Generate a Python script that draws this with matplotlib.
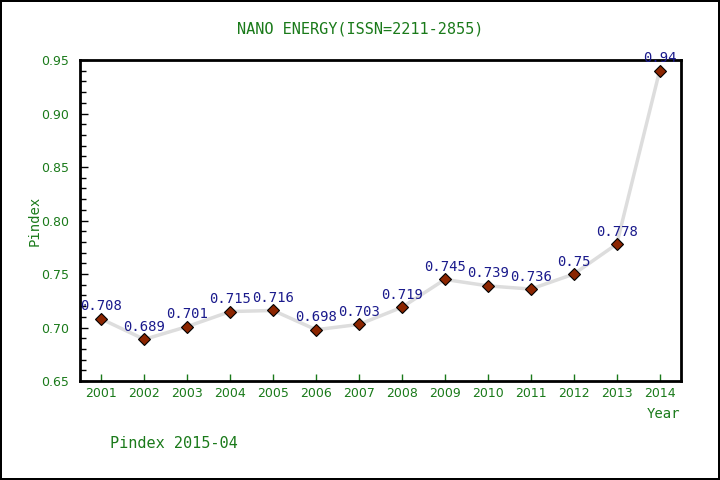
import numpy as np
import matplotlib.pyplot as plt
from matplotlib.ticker import MultipleLocator

# data
years = [2001, 2002, 2003, 2004, 2005, 2006, 2007, 2008, 2009, 2010, 2011, 2012, 2013, 2014]
pindex = [0.708, 0.689, 0.701, 0.715, 0.716, 0.698, 0.703, 0.719, 0.745, 0.739, 0.736, 0.75, 0.778, 0.94]
labels = ['0.708', '0.689', '0.701', '0.715', '0.716', '0.698', '0.703', '0.719',
          '0.745', '0.739', '0.736', '0.75', '0.778', '0.94']

green = '#1a7a1a'
navy = '#1a1a8c'

fig = plt.figure(figsize=(7.2, 4.8), dpi=100)
fig.patch.set_edgecolor('black')
fig.patch.set_linewidth(1.5)
ax = fig.add_axes([0.111, 0.206, 0.835, 0.669])

ax.plot(years, pindex, color='#dddddd', linewidth=2.5, zorder=2)
ax.plot(years, pindex, linestyle='none', marker='D', markersize=6,
        markerfacecolor='#8b2500', markeredgecolor='black', markeredgewidth=0.8, zorder=3)

for x, y, t in zip(years, pindex, labels):
    ax.annotate(t, (x, y), xytext=(0, 4), textcoords='offset points',
                ha='center', va='bottom', color=navy, fontsize=10,
                family='DejaVu Sans Mono', clip_on=False, zorder=4)

ax.set_xlim(2000.5, 2014.5)
ax.set_ylim(0.65, 0.95)
ax.set_xticks(years)
ax.yaxis.set_major_locator(MultipleLocator(0.05))
ax.yaxis.set_minor_locator(MultipleLocator(0.01))
ax.yaxis.set_major_formatter(plt.FormatStrFormatter('%.2f'))

ax.tick_params(axis='y', direction='in', length=6, width=1, colors='black',
               labelcolor=green, labelsize=9, pad=8)
ax.tick_params(axis='y', which='minor', direction='in', length=4, width=1)
ax.tick_params(axis='x', direction='in', length=5, width=1, colors=green,
               labelcolor=green, labelsize=9, pad=4)

for s in ax.spines.values():
    s.set_linewidth(2)
    s.set_color('black')

fig.text(0.5, 0.94, 'NANO ENERGY(ISSN=2211-2855)', ha='center', va='center',
         color=green, fontsize=11, family='DejaVu Sans Mono')
fig.text(0.048, 0.54, 'Pindex', rotation=90, ha='center', va='center',
         color=green, fontsize=10, family='DejaVu Sans Mono')
fig.text(0.922, 0.137, 'Year', ha='center', va='center', color=green,
         fontsize=10, family='DejaVu Sans Mono')
fig.text(0.153, 0.075, 'Pindex 2015-04', ha='left', va='center', color=green,
         fontsize=11, family='DejaVu Sans Mono')

plt.savefig('out.png', dpi=100, edgecolor=fig.get_edgecolor())
